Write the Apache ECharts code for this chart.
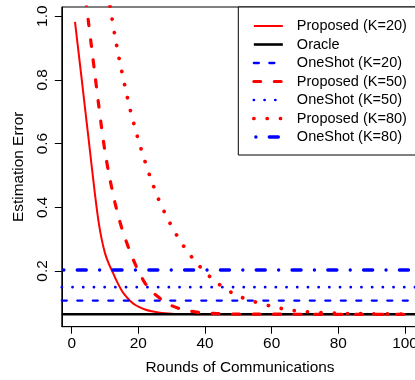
<!DOCTYPE html>
<html>
<head>
<meta charset="utf-8">
<script src="https://cdn.jsdelivr.net/npm/echarts@6/dist/echarts.min.js"></script>
<style>
  html, body { margin: 0; padding: 0; background: #fff; }
  #main { width: 415px; height: 380px; }
</style>
</head>
<body>
<div id="main"></div>
<script>
const rounds = [1, 2, 3, 4, 5, 6, 7, 8, 9, 10, 11, 12, 13, 14, 15, 16, 17, 18, 19, 20,
  22, 24, 26, 28, 30, 32, 34, 36, 38, 40, 42, 44, 46, 48, 50,
  55, 60, 65, 70, 75, 80, 85, 90, 95, 100];

const proposedK20 = [0.982, 0.893, 0.803, 0.712, 0.622, 0.530, 0.440, 0.360, 0.300, 0.256,
  0.226, 0.203, 0.180, 0.158, 0.139, 0.124, 0.112, 0.102, 0.094, 0.088,
  0.079, 0.0735, 0.070, 0.0675, 0.066, 0.0652, 0.0648, 0.0645, 0.0643, 0.0642,
  0.0641, 0.064, 0.064, 0.064, 0.064,
  0.064, 0.064, 0.064, 0.064, 0.064, 0.064, 0.064, 0.064, 0.064, 0.064];

const proposedK50 = [1.31, 1.23, 1.15, 1.07, 0.985, 0.90, 0.815, 0.73, 0.648, 0.575,
  0.514, 0.462, 0.414, 0.372, 0.336, 0.304, 0.275, 0.248, 0.223, 0.201,
  0.162, 0.136, 0.118, 0.103, 0.091, 0.083, 0.077, 0.073, 0.070, 0.068,
  0.067, 0.066, 0.0655, 0.065, 0.0648,
  0.0645, 0.0643, 0.0642, 0.0641, 0.064, 0.064, 0.064, 0.064, 0.064, 0.064];

const proposedK80 = [1.86, 1.78, 1.70, 1.62, 1.54, 1.46, 1.38, 1.30, 1.22, 1.14,
  1.065, 1.0, 0.937, 0.880, 0.829, 0.779, 0.731, 0.688, 0.649, 0.612,
  0.544, 0.482, 0.427, 0.381, 0.340, 0.304, 0.272, 0.244, 0.219, 0.197,
  0.177, 0.160, 0.145, 0.132, 0.121,
  0.103, 0.089, 0.078, 0.0725, 0.069, 0.067, 0.066, 0.0655, 0.065, 0.0648];

// flat reference levels
const oracle = 0.064;
const oneShotK20 = 0.107;
const oneShotK50 = 0.149;
const oneShotK80 = 0.203;

const xTicks = [0, 20, 40, 60, 80, 100];
const yTicks = [0.2, 0.4, 0.6, 0.8, 1.0];
const xMin = -2.96, xMax = 103.96;   // R style 4% padding
const yMin = 0.025, yMax = 1.029;

const FONT = '"Liberation Sans", Arial, Helvetica, sans-serif';
const RED = '#ff0000', BLUE = '#0000ff';

const pairs = ys => rounds.map((r, i) => [r, ys[i]]);
const flat = v => [[xMin, v], [xMax, v]];

// name, data, line style, smooth
const lines = [
  ['Proposed (K=20)', pairs(proposedK20), {color: RED, width: 2, type: 'solid'}, 0.3],
  ['Oracle', flat(oracle), {color: '#000', width: 2.6, type: 'solid'}, false],
  ['OneShot (K=20)', flat(oneShotK20), {color: BLUE, width: 2.3, type: [5, 10.5], cap: 'round'}, false],
  ['Proposed (K=50)', pairs(proposedK50), {color: RED, width: 3.2, type: [6.8, 13.7], cap: 'round'}, 0.3],
  ['OneShot (K=50)', flat(oneShotK50), {color: BLUE, width: 2.7, type: [0.1, 10.6], cap: 'round'}, false],
  ['Proposed (K=80)', pairs(proposedK80), {color: RED, width: 3.7, type: [0.1, 13.2], cap: 'round'}, 0.3],
  ['OneShot (K=80)', flat(oneShotK80), {color: BLUE, width: 3.3, type: [0.1, 13.3, 9.1, 13.3], cap: 'round', dashOffset: -2}, false]
];

const axisText = {fontFamily: FONT, fontSize: 15.4, color: '#000'};

const chart = echarts.init(document.getElementById('main'));
chart.setOption({
  animation: false,
  backgroundColor: '#fff',
  grid: {
    left: 61.8, right: -3.2, top: 7, bottom: 53.3,
    outerBoundsMode: 'none', containLabel: false,
    show: true, borderColor: '#000', borderWidth: 1
  },
  xAxis: {
    type: 'value', min: xMin, max: xMax,
    name: 'Rounds of Communications', nameLocation: 'middle', nameGap: 34,
    nameTextStyle: axisText,
    axisLine: {show: true, onZero: false, lineStyle: {color: '#000', width: 1}},
    axisTick: {show: true, length: 7, customValues: xTicks, lineStyle: {color: '#000'}},
    axisLabel: Object.assign({customValues: xTicks, margin: 10}, axisText),
    splitLine: {show: false}
  },
  yAxis: {
    type: 'value', min: yMin, max: yMax,
    name: 'Estimation Error', nameLocation: 'middle', nameGap: 36,
    nameTextStyle: axisText,
    axisLine: {show: true, onZero: false, lineStyle: {color: '#000', width: 1}},
    axisTick: {show: true, length: 7, customValues: yTicks, lineStyle: {color: '#000'}},
    axisLabel: Object.assign({customValues: yTicks, margin: 12, rotate: 90,
      formatter: v => v.toFixed(1)}, axisText),
    splitLine: {show: false}
  },
  legend: {
    orient: 'vertical', left: 238.3, top: 7,
    padding: [11.5, 30, 10.5, 13.7],
    itemWidth: 29, itemHeight: 15, itemGap: 3.5,
    borderColor: '#000', borderWidth: 1, borderRadius: 0, backgroundColor: '#fff',
    selectedMode: false,
    itemStyle: {opacity: 0},
    textStyle: {fontFamily: FONT, fontSize: 14.5, lineHeight: 15, color: '#000', padding: [0, 0, 0, 9]},
    data: lines.map(l => ({name: l[0], lineStyle: Object.assign({}, l[2], {opacity: 1})}))
  },
  series: lines.map(l => ({
    name: l[0],
    type: 'line',
    data: l[1],
    symbol: 'none',
    smooth: l[3],
    clip: true,
    color: l[2].color,
    lineStyle: l[2],
    emphasis: {disabled: true}
  }))
});
</script>
</body>
</html>
